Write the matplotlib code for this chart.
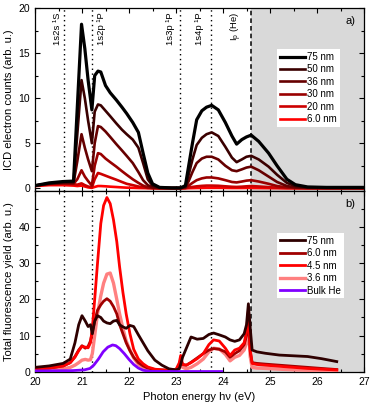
# -*- coding: utf-8 -*-
import matplotlib
matplotlib.use('Agg')
import matplotlib.pyplot as plt
from matplotlib.ticker import MultipleLocator

# Características para las gráficas
params = {'font.family': ['Liberation Sans', 'DejaVu Sans'],
          'font.size': 7.5,
          'axes.labelsize': 8,
          'xtick.labelsize': 7.5,
          'ytick.labelsize': 7.5,
          'legend.fontsize': 7,
          'axes.linewidth': 0.9,
          'mathtext.default': 'regular'}
plt.rcParams.update(params)

# ---------------- Datos panel a) : electrones ICD ----------------
energia_a = [20.0, 20.3, 20.6, 20.82, 20.9, 20.99, 21.06, 21.13, 21.21, 21.27,
             21.34, 21.4, 21.5, 21.6, 21.73, 21.85, 21.95, 22.08, 22.2, 22.3,
             22.4, 22.5, 22.65, 22.9, 23.1, 23.2, 23.27, 23.35, 23.44, 23.55,
             23.65, 23.76, 23.9, 24.05, 24.19, 24.29, 24.4, 24.5, 24.6, 24.76,
             24.97, 25.15, 25.36, 25.54, 25.8, 26.2, 27.0]

icd_75 = [0.3, 0.6, 0.75, 0.8, 9.0, 18.2, 15.5, 12.0, 8.7, 12.5,
          13.0, 12.9, 11.4, 10.6, 9.8, 9.0, 8.3, 7.3, 6.2, 3.9,
          1.7, 0.5, 0.1, 0.05, 0.05, 0.3, 2.5, 5.0, 7.6, 8.6,
          9.0, 9.2, 8.7, 7.3, 5.8, 4.9, 5.4, 5.7, 5.9, 5.2,
          3.9, 2.5, 1.0, 0.4, 0.15, 0.1, 0.1]
icd_50 = [0.3, 0.55, 0.7, 0.7, 6.0, 12.0, 10.0, 7.5, 5.0, 8.5,
          9.3, 9.2, 8.6, 8.0, 7.2, 6.5, 6.0, 5.4, 4.5, 2.8,
          1.0, 0.3, 0.08, 0.03, 0.03, 0.2, 1.5, 3.2, 4.8, 5.6,
          6.0, 6.2, 5.8, 4.6, 3.4, 2.9, 3.2, 3.5, 3.6, 3.2,
          2.4, 1.5, 0.6, 0.25, 0.1, 0.05, 0.05]
icd_36 = [0.3, 0.5, 0.6, 0.6, 3.0, 6.0, 4.5, 3.2, 1.9, 5.0,
          6.9, 6.8, 6.3, 5.7, 4.9, 4.2, 3.6, 2.8, 1.8, 0.9,
          0.35, 0.1, 0.03, 0.02, 0.02, 0.1, 0.8, 1.8, 2.8, 3.3,
          3.5, 3.5, 3.2, 2.5, 2.0, 1.9, 2.1, 2.3, 2.4, 2.0,
          1.3, 0.7, 0.25, 0.1, 0.05, 0.03, 0.03]
icd_30 = [0.3, 0.5, 0.55, 0.5, 1.0, 2.0, 1.3, 0.8, 0.3, 2.5,
          3.9, 3.8, 3.3, 2.9, 2.4, 1.9, 1.5, 1.0, 0.6, 0.3,
          0.1, 0.03, 0.02, 0.02, 0.02, 0.05, 0.3, 0.6, 0.9, 1.1,
          1.2, 1.2, 1.1, 0.9, 0.7, 0.65, 0.75, 0.85, 0.9, 0.75,
          0.5, 0.25, 0.1, 0.05, 0.03, 0.02, 0.02]
icd_20 = [0.3, 0.45, 0.5, 0.45, 0.4, 0.55, 0.35, 0.2, 0.1, 1.0,
          1.7, 1.6, 1.4, 1.2, 0.95, 0.7, 0.5, 0.35, 0.2, 0.1,
          0.04, 0.02, 0.01, 0.01, 0.01, 0.02, 0.08, 0.15, 0.22, 0.27,
          0.3, 0.3, 0.28, 0.22, 0.17, 0.15, 0.18, 0.22, 0.25, 0.2,
          0.13, 0.07, 0.03, 0.02, 0.01, 0.01, 0.01]
icd_6 = [0.25, 0.35, 0.35, 0.3, 0.25, 0.3, 0.2, 0.1, 0.05, 0.15,
         0.25, 0.25, 0.22, 0.18, 0.14, 0.1, 0.07, 0.05, 0.03, 0.02,
         0.01, 0.01, 0.0, 0.0, 0.0, 0.0, 0.01, 0.02, 0.03, 0.04,
         0.05, 0.05, 0.05, 0.04, 0.03, 0.03, 0.03, 0.04, 0.04, 0.03,
         0.02, 0.01, 0.0, 0.0, 0.0, 0.0, 0.0]

etiquetas_a = ['75 nm', '50 nm', '36 nm', '30 nm', '20 nm', '6.0 nm']
colores_a = ['#000000', '#3a0000', '#660000', '#990000', '#cc0000', '#ff0000']

# ---------------- Datos panel b) : fluorescencia total ----------------
energia_b = [20.0, 20.3, 20.6, 20.75, 20.85, 20.93, 21.0, 21.07, 21.13, 21.18,
             21.22, 21.27, 21.33, 21.4, 21.46, 21.53, 21.6, 21.67, 21.74, 21.8,
             21.87, 21.94, 22.02, 22.1, 22.2, 22.3, 22.4, 22.55, 22.7, 22.85,
             23.0, 23.07, 23.1, 23.14, 23.22, 23.32, 23.45, 23.58, 23.7, 23.8,
             23.92, 24.05, 24.15, 24.25, 24.35, 24.45, 24.5, 24.54, 24.58, 24.62,
             24.72, 24.9, 25.2, 25.5, 25.8, 26.1, 26.42]

tfy_75 = [1.2, 1.6, 2.3, 3.5, 8.0, 13.0, 15.5, 14.0, 12.5, 13.0,
          10.5, 14.0, 15.5, 15.0, 14.0, 13.5, 13.3, 14.0, 14.2, 13.0,
          12.4, 12.0, 12.8, 12.5, 10.2, 8.0, 5.8, 3.2, 1.8, 0.8,
          0.5, 0.8, 2.0, 4.0, 6.5, 9.6, 9.0, 9.2, 10.3, 10.7,
          10.2, 9.6, 8.8, 8.4, 8.8, 10.5, 13.0, 18.8, 12.0, 6.0,
          5.5, 5.1, 4.6, 4.4, 4.2, 3.6, 2.8]
tfy_6 = [0.8, 1.0, 1.6, 2.5, 4.2, 6.0, 7.2, 6.5, 7.0, 8.5,
         11.0, 14.0, 17.0, 18.5, 19.5, 20.2, 19.5, 18.0, 16.0, 13.0,
         10.5, 8.0, 5.8, 4.0, 2.5, 1.6, 1.0, 0.6, 0.5, 0.4,
         0.5, 2.0, 3.5, 2.0, 1.8, 2.6, 3.8, 5.0, 6.0, 6.4,
         6.2, 5.5, 4.0, 5.0, 5.8, 7.5, 10.0, 15.0, 5.5, 2.5,
         2.3, 2.1, 1.8, 1.5, 1.2, 0.9, 0.6]
tfy_45 = [0.8, 1.0, 1.6, 2.5, 4.0, 5.8, 7.0, 6.8, 6.6, 8.0,
          12.0, 20.0, 30.0, 41.0, 46.0, 48.2, 46.5, 42.0, 36.0, 29.0,
          22.0, 16.0, 10.5, 6.2, 3.5, 2.2, 1.3, 0.7, 0.5, 0.4,
          0.6, 2.5, 4.5, 2.0, 1.8, 2.5, 3.6, 5.0, 7.5, 8.8,
          8.5, 6.5, 4.5, 6.0, 6.5, 8.0, 11.0, 17.0, 6.0, 2.3,
          2.0, 1.8, 1.5, 1.2, 0.9, 0.7, 0.5]
tfy_36 = [0.5, 0.6, 0.8, 1.2, 1.8, 2.5, 3.2, 3.4, 3.2, 3.3,
          5.0, 10.0, 16.0, 21.0, 24.5, 27.0, 27.3, 24.5, 20.0, 16.0,
          12.0, 8.5, 6.0, 3.8, 2.0, 1.2, 0.7, 0.4, 0.3, 0.3,
          0.4, 1.5, 3.0, 1.2, 0.8, 1.2, 2.2, 3.5, 5.5, 6.5,
          6.3, 4.8, 3.0, 4.0, 4.5, 6.0, 8.0, 12.0, 4.0, 1.2,
          1.0, 0.9, 0.7, 0.5, 0.4, 0.3, 0.2]

energia_bulk = [20.0, 20.8, 21.05, 21.17, 21.25, 21.35, 21.45, 21.55, 21.65, 21.72,
                21.8, 21.9, 22.0, 22.1, 22.2, 22.3, 22.45, 23.0, 23.97]
tfy_bulk = [0.2, 0.3, 0.5, 0.9, 1.8, 3.5, 5.5, 6.8, 7.4, 7.2,
            6.4, 5.0, 3.4, 2.0, 1.0, 0.4, 0.1, 0.05, 0.05]

# Resonancias del He atómico y potencial de ionización
resonancias = [20.62, 21.22, 23.09, 23.74]
nombres_res = ['1s2s ¹S', '1s2p ¹P', '1s3p ¹P', '1s4p ¹P']
desfase_res = [-0.05, 0.09, -0.12, -0.14]
ip_he = 24.59


def formatoEjes(ax):
    # Marcas hacia dentro en los cuatro lados
    ax.set_xlim(20, 27)
    ax.xaxis.set_major_locator(MultipleLocator(1))
    ax.xaxis.set_minor_locator(MultipleLocator(0.5))
    ax.tick_params(which='both', direction='in', top=True, right=True)
    ax.tick_params(which='major', length=3.5, width=0.8)
    ax.tick_params(which='minor', length=2, width=0.8)
    # Región por encima del potencial de ionización
    ax.axvspan(ip_he, 27, color='#d9d9d9', lw=0, zorder=0)
    ax.axvline(ip_he, color='k', ls=(0, (3, 2)), lw=1.1, zorder=1)
    for e in resonancias:
        ax.axvline(e, color='k', ls=(0, (1, 2.5)), lw=1.0, zorder=1)


def graficar():
    fig = plt.figure(figsize=(3.74, 4.03), dpi=100)
    ax1 = fig.add_axes([35 / 374., 1 - 191 / 403., 329 / 374., 183 / 403.])
    ax2 = fig.add_axes([35 / 374., 1 - 371.7 / 403., 329 / 374., 180.7 / 403.])

    # Panel a)
    formatoEjes(ax1)
    curvas_a = [icd_75, icd_50, icd_36, icd_30, icd_20, icd_6]
    lineas = []
    for i in range(len(curvas_a) - 1, -1, -1):
        ln, = ax1.plot(energia_a, curvas_a[i], color=colores_a[i],
                       lw=2.3 if i == 0 else 1.9, label=etiquetas_a[i], zorder=3)
        lineas.insert(0, ln)
    ax1.set_ylim(-0.3, 20)
    ax1.yaxis.set_major_locator(MultipleLocator(5))
    ax1.yaxis.set_minor_locator(MultipleLocator(2.5))
    ax1.set_yticks([0, 5, 10, 15, 20])
    ax1.tick_params(labelbottom=False)
    ax1.set_ylabel('ICD electron counts (arb. u.)', labelpad=3)
    ax1.text(0.975, 0.955, 'a)', transform=ax1.transAxes, ha='right', va='top', fontsize=8)
    for e, nombre, d in zip(resonancias, nombres_res, desfase_res):
        ax1.text(e + d, 19.55, nombre, rotation=90, fontsize=6.8,
                 ha='left' if d > 0 else 'right', va='top')
    ax1.text(ip_he - 0.14, 19.55, 'I$_p$ (He)', rotation=90, fontsize=6.8,
             ha='right', va='top')
    leg = ax1.legend(handles=lineas, loc='upper left', bbox_to_anchor=(0.736, 0.776),
                     borderaxespad=0., frameon=True, fancybox=False, framealpha=1,
                     edgecolor='none', handlelength=2.6, handletextpad=0.2,
                     labelspacing=0.25, borderpad=0.3)
    leg.get_frame().set_facecolor('white')

    # Panel b)
    formatoEjes(ax2)
    l36, = ax2.plot(energia_b, tfy_36, color='#ff8080', lw=2.4, zorder=3)
    l6, = ax2.plot(energia_b, tfy_6, color='#a00000', lw=2.0, zorder=3)
    l45, = ax2.plot(energia_b, tfy_45, color='#ff0000', lw=2.0, zorder=3)
    l75, = ax2.plot(energia_b, tfy_75, color='#2e0000', lw=2.0, zorder=3)
    lbulk, = ax2.plot(energia_bulk, tfy_bulk, color='#8000ff', lw=2.0, zorder=3)
    ax2.set_ylim(0, 50)
    ax2.yaxis.set_major_locator(MultipleLocator(10))
    ax2.yaxis.set_minor_locator(MultipleLocator(5))
    ax2.set_yticks([0, 10, 20, 30, 40])
    ax2.set_ylabel('Total fluorescence yield (arb. u.)', labelpad=3)
    ax2.set_xlabel('Photon energy hν (eV)', labelpad=4)
    ax2.text(0.975, 0.955, 'b)', transform=ax2.transAxes, ha='right', va='top', fontsize=8)
    leg2 = ax2.legend([l75, l6, l45, l36, lbulk],
                      ['75 nm', '6.0 nm', '4.5 nm', '3.6 nm', 'Bulk He'],
                      loc='upper left', bbox_to_anchor=(0.736, 0.768),
                      borderaxespad=0., frameon=True, fancybox=False, framealpha=1,
                      edgecolor='none', handlelength=2.6, handletextpad=0.2,
                      labelspacing=0.25, borderpad=0.3)
    leg2.get_frame().set_facecolor('white')

    fig.savefig('out.png', dpi=100)
    plt.close(fig)


graficar()
